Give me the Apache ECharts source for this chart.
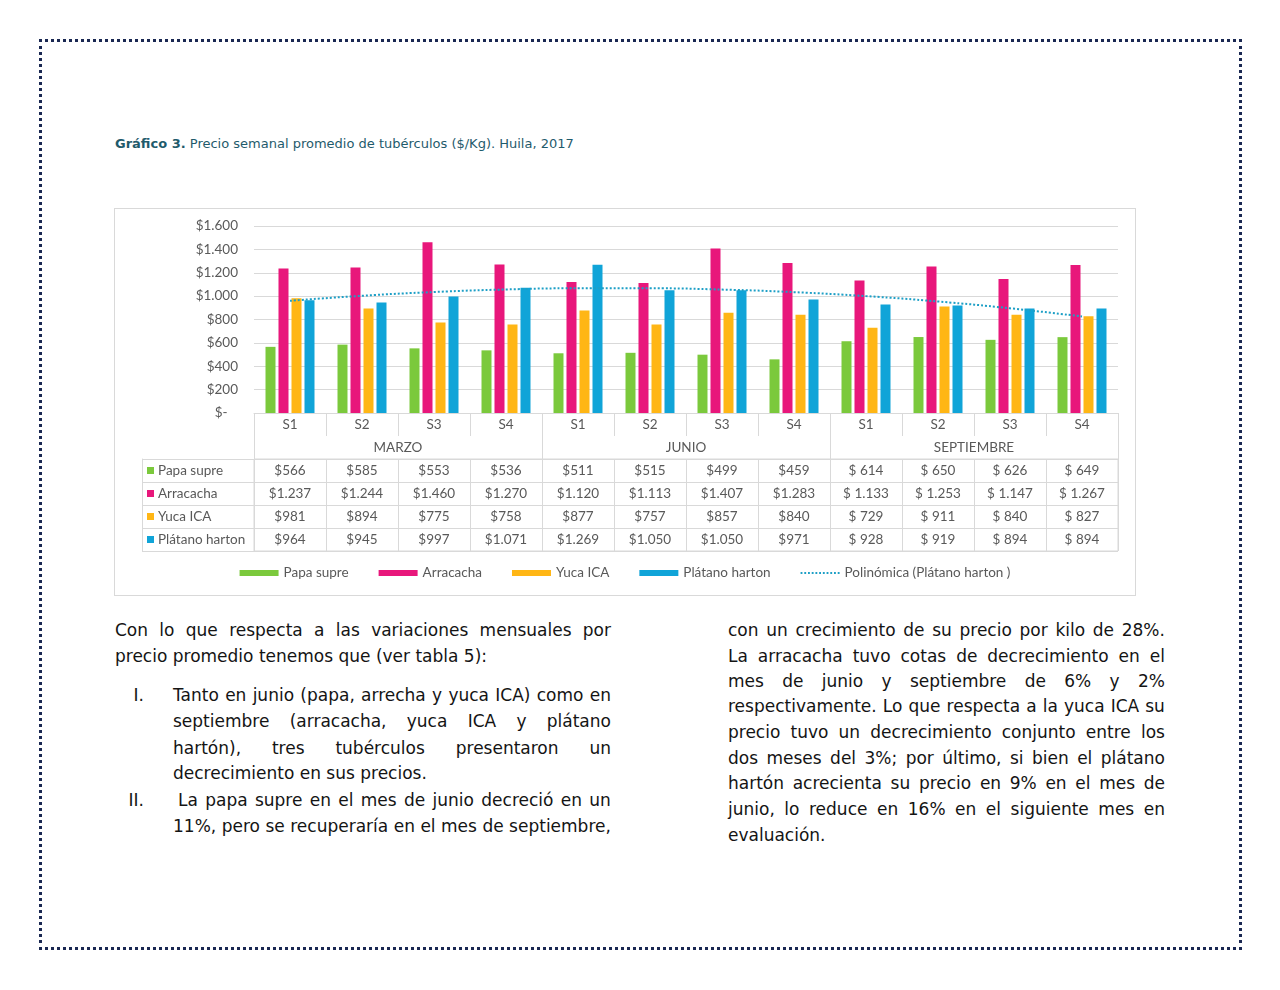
<!DOCTYPE html>
<html>
<head>
<meta charset="utf-8">
<script src="https://cdn.jsdelivr.net/npm/echarts@6/dist/echarts.min.js"></script>
<style>
  html, body { margin: 0; padding: 0; background: #fff; }
  body { width: 1280px; height: 990px; position: relative; overflow: hidden; }
  #frame { position: absolute; left: 39px; top: 39px; width: 1197px; height: 905px; border: 3px dotted #1a2852; }
  #title { position: absolute; left: 115px; top: 136px; font-family: "DejaVu Sans", sans-serif; font-size: 13px; color: #1f5b6c; white-space: nowrap; }
  #title b { font-weight: bold; }
  #chartBox { position: absolute; left: 114px; top: 208px; width: 1020px; height: 386px; border: 1px solid #d9d9d9; }
  #chart { width: 1020px; height: 386px; }
  .ln { position: absolute; height: 26px; line-height: 26px; font-family: "DejaVu Sans", sans-serif; font-size: 17px; color: #141414; white-space: nowrap; }
  .j { display: flex; justify-content: space-between; }
  .num { text-align: right; }
</style>
</head>
<body>
<div id="frame"></div>
<div id="title"><b>Gráfico 3.</b> Precio semanal promedio de tubérculos ($/Kg). Huila, 2017</div>
<div id="chartBox"><div id="chart"></div></div>
<div id="text"></div>
<script>
// ---- data ----
const weeks = ['S1','S2','S3','S4','S1','S2','S3','S4','S1','S2','S3','S4'];
const months = ['MARZO','JUNIO','SEPTIEMBRE'];
const seriesNames = ['Papa supre','Arracacha','Yuca ICA','Plátano harton'];
const papaSupre = [566,585,553,536,511,515,499,459,614,650,626,649];
const arracacha = [1237,1244,1460,1270,1120,1113,1407,1283,1133,1253,1147,1267];
const yucaICA = [981,894,775,758,877,757,857,840,729,911,840,827];
const platanoHarton = [964,945,997,1071,1269,1050,1050,971,928,919,894,894];
const trendName = 'Polinómica (Plátano harton )';
const trendPlatano = [960,1003,1035,1057,1067,1067,1056,1034,1000,954,896,826];
const yTicks = [0,200,400,600,800,1000,1200,1400,1600];

// ---- styling ----
const colors = ['#7bc93c','#e8177b','#ffb615','#10a4d8'];
const trendColor = '#1d9fc6';
const gridColor = '#d9d9d9';
const txtColor = '#595959';
const chartFont = 'Lato, "Open Sans", sans-serif';
const fs = 13.5;

function fmtThousands(v) {
  return String(v).replace(/\B(?=(\d{3})+(?!\d))/g, '.');
}
function cellText(v, i) {
  return (i >= 8 ? '$ ' : '$') + fmtThousands(v);
}

const rows = [papaSupre, arracacha, yucaICA, platanoHarton];
const cellData = [];
rows.forEach((arr, r) => arr.forEach((v, i) => cellData.push([i, r, cellText(v, i)])));

const rich = {};
colors.forEach((c, i) => { rich['sq' + i] = { width: 7, height: 7, backgroundColor: c }; });
rich.t = { color: txtColor, fontSize: fs, fontFamily: chartFont, padding: [0,0,0,4] };

// dotted legend icon for the trend line
let dotPath = 'path://M0,0h2v2h-2z';
for (let k = 1; k < 11; k++) dotPath += 'm4,0h2v2h-2z';

const chart = echarts.init(document.getElementById('chart'), null, { renderer: 'canvas' });
const option = {
  animation: false,
  textStyle: { fontFamily: chartFont },
  grid: [
    { left: 139, width: 864, top: 17, height: 187 },
    { left: 139, width: 864, top: 250, height: 92, show: true, borderColor: gridColor, borderWidth: 1, backgroundColor: 'transparent' }
  ],
  xAxis: [
    { type: 'category', gridIndex: 0, data: weeks, position: 'bottom',
      axisLine: { show: true, lineStyle: { color: gridColor } },
      axisTick: { show: true, length: 23, lineStyle: { color: gridColor } },
      axisLabel: { color: txtColor, fontSize: fs, fontFamily: chartFont, margin: 5, interval: 0 },
      splitLine: { show: false } },
    { type: 'category', gridIndex: 0, data: months, position: 'bottom',
      axisLine: { show: false },
      axisTick: { show: true, length: 46, lineStyle: { color: gridColor } },
      axisLabel: { color: txtColor, fontSize: fs, fontFamily: chartFont, margin: 28, interval: 0 },
      splitLine: { show: false } },
    { type: 'category', gridIndex: 1, data: weeks, position: 'top',
      axisLine: { show: false }, axisTick: { show: false }, axisLabel: { show: false },
      splitLine: { show: true, interval: 0, lineStyle: { color: gridColor } } }
  ],
  yAxis: [
    { type: 'value', gridIndex: 0, min: yTicks[0], max: yTicks[yTicks.length - 1], interval: yTicks[1] - yTicks[0],
      axisLine: { show: false }, axisTick: { show: false },
      axisLabel: { color: txtColor, fontSize: fs, fontFamily: chartFont, margin: 16,
        formatter: v => v === 0 ? '$-   ' : '$' + fmtThousands(v) },
      splitLine: { show: true, lineStyle: { color: gridColor } } },
    { type: 'category', gridIndex: 1, data: seriesNames, inverse: true,
      axisLine: { show: true, lineStyle: { color: gridColor } },
      axisTick: { show: true, length: 112, lineStyle: { color: gridColor } },
      axisLabel: { align: 'left', margin: 107, interval: 0,
        formatter: (v, i) => '{sq' + i + '|}{t|' + v + '}', rich: rich },
      splitLine: { show: true, interval: 0, lineStyle: { color: gridColor } } },
    { type: 'value', gridIndex: 1, position: 'left', offset: 112, min: 0, max: 1,
      axisLine: { show: true, lineStyle: { color: gridColor } },
      axisTick: { show: false }, axisLabel: { show: false }, splitLine: { show: false } }
  ],
  legend: {
    bottom: 10, left: 'center', itemGap: 30, itemWidth: 39, itemHeight: 6,
    textStyle: { color: txtColor, fontSize: fs, fontFamily: chartFont },
    data: [
      { name: seriesNames[0], icon: 'rect' },
      { name: seriesNames[1], icon: 'rect' },
      { name: seriesNames[2], icon: 'rect' },
      { name: seriesNames[3], icon: 'rect' },
      { name: trendName, icon: dotPath, itemStyle: { color: trendColor } }
    ]
  },
  series: [
    ...rows.map((arr, i) => ({
      type: 'bar', name: seriesNames[i], xAxisIndex: 0, yAxisIndex: 0,
      data: arr, barWidth: 10, barGap: '30%',
      itemStyle: { color: colors[i] }
    })),
    { type: 'line', name: trendName, xAxisIndex: 0, yAxisIndex: 0, data: trendPlatano,
      smooth: true, symbol: 'none', z: 5,
      itemStyle: { color: trendColor },
      lineStyle: { color: trendColor, width: 2, type: [2, 2] } },
    { type: 'scatter', name: 'cells', xAxisIndex: 2, yAxisIndex: 1, data: cellData,
      symbolSize: 1, itemStyle: { color: 'rgba(0,0,0,0)' }, silent: true,
      label: { show: true, position: 'inside', opacity: 1, color: txtColor, fontSize: fs, fontFamily: chartFont,
        formatter: p => p.value[2] } }
  ]
};
chart.setOption(option);

// ---- body text ----
const leftLines = [
  { t: 'Con lo que respecta a las variaciones mensuales por', x: 115, w: 496, y: 631, j: true },
  { t: 'precio promedio tenemos que (ver tabla 5):', x: 115, w: 496, y: 657, j: false },
  { t: 'Tanto en junio (papa, arrecha y yuca ICA) como en', x: 173, w: 438, y: 696, j: true, n: 'I.' },
  { t: 'septiembre (arracacha, yuca ICA y plátano', x: 173, w: 438, y: 722, j: true },
  { t: 'hartón), tres tubérculos presentaron un', x: 173, w: 438, y: 749, j: true },
  { t: 'decrecimiento en sus precios.', x: 173, w: 438, y: 774, j: false },
  { t: 'La papa supre en el mes de junio decreció en un', x: 178, w: 433, y: 801, j: true, n: 'II.' },
  { t: '11%, pero se recuperaría en el mes de septiembre,', x: 173, w: 438, y: 827, j: true }
];
const rightLines = [
  { t: 'con un crecimiento de su precio por kilo de 28%.', y: 631, j: true },
  { t: 'La arracacha tuvo cotas de decrecimiento en el', y: 657, j: true },
  { t: 'mes de junio y septiembre de 6% y 2%', y: 682, j: true },
  { t: 'respectivamente. Lo que respecta a la yuca ICA su', y: 707, j: true },
  { t: 'precio tuvo un decrecimiento conjunto entre los', y: 733, j: true },
  { t: 'dos meses del 3%; por último, si bien el plátano', y: 759, j: true },
  { t: 'hartón acrecienta su precio en 9% en el mes de', y: 784, j: true },
  { t: 'junio, lo reduce en 16% en el siguiente mes en', y: 810, j: true },
  { t: 'evaluación.', y: 836, j: false }
].map(l => Object.assign({ x: 728, w: 437 }, l));

const host = document.getElementById('text');
function addLine(l) {
  const d = document.createElement('div');
  d.className = 'ln' + (l.j ? ' j' : '');
  d.style.left = l.x + 'px';
  d.style.top = (l.y - 14) + 'px';
  d.style.width = l.w + 'px';
  if (l.j) {
    l.t.split(' ').forEach(w => { const s = document.createElement('span'); s.textContent = w; d.appendChild(s); });
  } else {
    d.textContent = l.t;
  }
  host.appendChild(d);
  if (l.n) {
    const n = document.createElement('div');
    n.className = 'ln num';
    n.style.left = '115px';
    n.style.width = '29px';
    n.style.top = (l.y - 14) + 'px';
    n.textContent = l.n;
    host.appendChild(n);
  }
}
leftLines.forEach(addLine);
rightLines.forEach(addLine);
</script>
</body>
</html>
